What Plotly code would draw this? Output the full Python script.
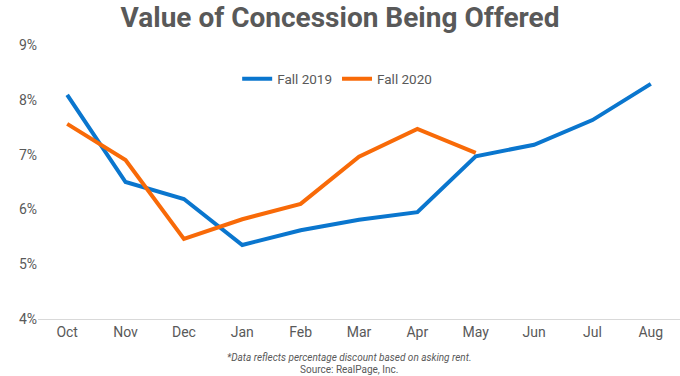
import plotly.graph_objects as go

months = ["Oct", "Nov", "Dec", "Jan", "Feb", "Mar", "Apr", "May", "Jun", "Jul", "Aug"]
fall_2019 = [8.09, 6.50, 6.19, 5.35, 5.62, 5.81, 5.95, 6.97, 7.18, 7.63, 8.29]
fall_2020 = [7.56, 6.90, 5.46, 5.82, 6.10, 6.96, 7.47, 7.03]
y_ticks = [4, 5, 6, 7, 8, 9]
y_tick_labels = ["4%", "5%", "6%", "7%", "8%", "9%"]

fig = go.Figure()
fig.add_trace(go.Scatter(x=months, y=fall_2019, mode="lines", name="Fall 2019",
                         line=dict(color="#0A76CE", width=4)))
fig.add_trace(go.Scatter(x=months[:len(fall_2020)], y=fall_2020, mode="lines", name="Fall 2020",
                         line=dict(color="#F86A08", width=4)))

fig.update_layout(
    width=680, height=376,
    margin=dict(l=38, r=0, t=45, b=57, autoexpand=False),
    paper_bgcolor="white", plot_bgcolor="white",
    font=dict(family="Roboto", color="#595959", size=14),
    title=dict(text="<b>Value of Concession Being Offered</b>", x=0.5, xanchor="center",
               y=0.953, yanchor="middle", font=dict(size=28, color="#595959")),
    legend=dict(orientation="h", x=0.466, xanchor="center", y=0.876, yanchor="middle",
                font=dict(size=13.5, color="#595959"), bgcolor="rgba(0,0,0,0)"),
    showlegend=True,
)
fig.update_xaxes(type="category", categoryorder="array", categoryarray=months, automargin=False,
                 range=[-0.5, 10.5], showgrid=False, showline=True, linecolor="#D9D9D9",
                 linewidth=1, ticks="", tickfont=dict(size=14, color="#595959"))
fig.update_yaxes(range=[4, 9], tickvals=y_ticks, ticktext=y_tick_labels, showgrid=False,
                 automargin=False, zeroline=False, showline=False, ticks="",
                 tickfont=dict(size=14, color="#595959"))

fig.add_annotation(text="<i>*Data reflects percentage discount based on asking rent.</i>",
                   xref="paper", yref="paper", x=0.485, y=-0.142, xanchor="center", yanchor="middle",
                   showarrow=False, font=dict(size=10, color="#595959"))
fig.add_annotation(text="Source: RealPage, Inc.",
                   xref="paper", yref="paper", x=0.485, y=-0.186, xanchor="center", yanchor="middle",
                   showarrow=False, font=dict(size=10, color="#595959"))

fig.write_html("out.html", config={"displayModeBar": False},
               post_script="document.body.style.margin='0';")
